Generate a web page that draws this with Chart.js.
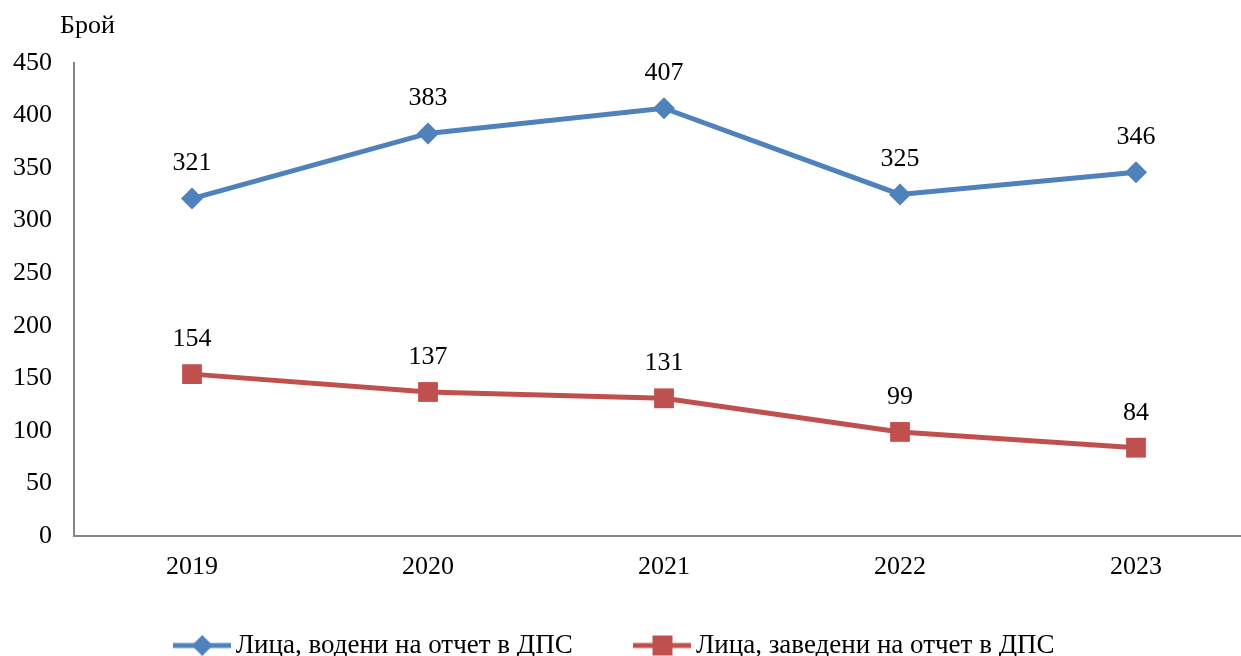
<!DOCTYPE html>
<html>
<head>
<meta charset="utf-8">
<script src="https://cdn.jsdelivr.net/npm/chart.js@4"></script>
<style>
html,body{margin:0;padding:0;overflow:hidden;background:#fff;width:1241px;height:656px;}
canvas{position:absolute;left:0;top:0;}
</style>
</head>
<body>
<canvas id="c" width="1268" height="656"></canvas>
<script>
const categories = ['2019', '2020', '2021', '2022', '2023'];
const seriesKept = [321, 383, 407, 325, 346];
const seriesAdded = [154, 137, 131, 99, 84];
const seriesNames = ['Лица, водени на отчет в ДПС', 'Лица, заведени на отчет в ДПС'];
const yTicks = [0, 50, 100, 150, 200, 250, 300, 350, 400, 450];
const yAxisLabel = 'Брой';

const FONT = '"Liberation Serif", "Times New Roman", serif';
const FS = 26;
const BLUE = '#4F81BD';
const RED = '#C0504D';
const AXIS = '#868686';

function legendIcon(color, shape) {
  const c = document.createElement('canvas');
  c.width = 58; c.height = 24;
  const g = c.getContext('2d');
  g.strokeStyle = color; g.lineWidth = 5;
  g.beginPath(); g.moveTo(0, 12); g.lineTo(58, 12); g.stroke();
  g.fillStyle = color;
  g.beginPath();
  if (shape === 'diamond') {
    g.moveTo(29, 1.5); g.lineTo(39.5, 12); g.lineTo(29, 22.5); g.lineTo(18.5, 12); g.closePath();
  } else {
    g.rect(19, 2, 20, 20);
  }
  g.fill();
  return c;
}
const icons = [legendIcon(BLUE, 'diamond'), legendIcon(RED, 'square')];
// extra spacing after the first legend entry (em space + four-per-em space)
const legendGaps = ['\u2003\u2005', ''];

const labelPlugin = {
  id: 'valueLabels',
  afterDatasetsDraw(chart) {
    const ctx = chart.ctx;
    ctx.save();
    ctx.font = FS + 'px ' + FONT;
    ctx.fillStyle = '#000';
    ctx.textAlign = 'center';
    ctx.textBaseline = 'middle';
    chart.data.datasets.forEach((ds, i) => {
      const meta = chart.getDatasetMeta(i);
      meta.data.forEach((pt, j) => {
        ctx.fillText(String(ds.data[j]), pt.x, pt.y - 35);
      });
    });
    ctx.textAlign = 'left';
    ctx.fillText(yAxisLabel, chart.chartArea.left - 14, 26);
    ctx.restore();
  }
};

new Chart(document.getElementById('c'), {
  type: 'line',
  data: {
    labels: categories,
    datasets: [
      {
        label: seriesNames[0],
        data: seriesKept,
        borderColor: BLUE,
        backgroundColor: BLUE,
        borderWidth: 5,
        pointStyle: 'rectRot',
        pointRadius: 11,
        pointHoverRadius: 11,
        pointBorderWidth: 0,
        tension: 0
      },
      {
        label: seriesNames[1],
        data: seriesAdded,
        borderColor: RED,
        backgroundColor: RED,
        borderWidth: 5,
        pointStyle: 'rect',
        pointRadius: 14,
        pointHoverRadius: 14,
        pointBorderWidth: 0,
        tension: 0
      }
    ]
  },
  options: {
    responsive: false,
    animation: false,
    events: [],
    layout: { padding: { top: 63, left: -29.25, right: 2, bottom: -13 } },
    plugins: {
      tooltip: { enabled: false },
      legend: {
        position: 'bottom',
        labels: {
          usePointStyle: true,
          pointStyleWidth: 40,
          padding: 36,
          color: '#000',
          font: { family: FONT, size: 27 },
          generateLabels(chart) {
            return chart.data.datasets.map((ds, i) => ({
              text: ds.label + legendGaps[i],
              pointStyle: icons[i],
              fillStyle: ds.borderColor,
              strokeStyle: ds.borderColor,
              lineWidth: 0,
              hidden: false,
              datasetIndex: i,
              fontColor: '#000'
            }));
          }
        }
      }
    },
    scales: {
      x: {
        offset: true,
        grid: { display: false, drawTicks: false },
        border: { display: true, color: AXIS, width: 2 },
        ticks: { color: '#000', font: { family: FONT, size: FS }, padding: 16 },
        afterFit(s) { s.height = 60; }
      },
      y: {
        min: 0, max: 450,
        afterBuildTicks(s) { s.ticks = yTicks.map(v => ({ value: v })); },
        grid: { display: false, drawTicks: false },
        border: { display: true, color: AXIS, width: 2 },
        ticks: { color: '#000', font: { family: FONT, size: FS }, padding: 22 },
        afterFit(s) { s.width = 103.25; }
      }
    }
  },
  plugins: [labelPlugin]
});
</script>
</body>
</html>
